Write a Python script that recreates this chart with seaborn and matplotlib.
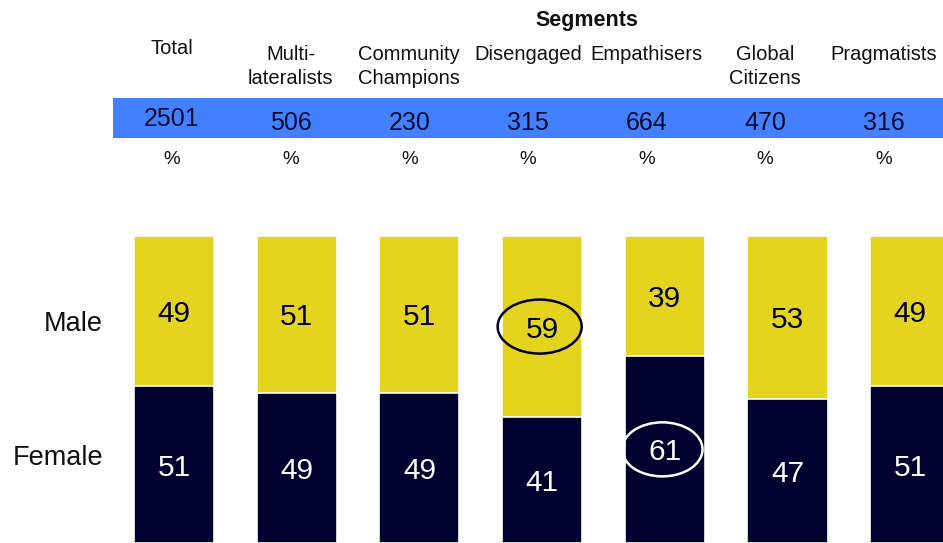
import matplotlib
matplotlib.use("Agg")
import matplotlib.pyplot as plt
from matplotlib.patches import Ellipse, Rectangle
import pandas as pd
import seaborn as sns

# Segment columns, base sizes and gender split (%)
segments = ["Total", "Multi-\nlateralists", "Community\nChampions", "Disengaged",
            "Empathisers", "Global\nCitizens", "Pragmatists"]
bases = [2501, 506, 230, 315, 664, 470, 316]
male = [49, 51, 51, 59, 39, 53, 49]
female = [51, 49, 49, 41, 61, 47, 51]
# Figures circled as notable differences: (segment index, group)
highlights = [(3, "Male"), (4, "Female")]

YELLOW = "#e4d41e"
NAVY = "#00002f"
BAND = "#4280ff"

sns.set_theme(style="white")
plt.rcParams["font.family"] = ["Liberation Sans", "DejaVu Sans"]

W, H = 943, 543
fig = plt.figure(figsize=(W / 100, H / 100), dpi=100)


def fx(px):
    return px / W


def fy(py):
    return 1 - py / H


df = pd.DataFrame({"segment": segments, "male": male, "female": female})
df["total"] = df["male"] + df["female"]

# Bar area spans the whole figure; limits place the columns under the header
ax = fig.add_axes([0, 0, 1, 1])
step = 122.7
ppu = 3.07
sns.barplot(data=df, x="segment", y="total", color=YELLOW, saturation=1,
            width=0.652, edgecolor="white", linewidth=1.2, ax=ax)
sns.barplot(data=df, x="segment", y="female", color=NAVY, saturation=1,
            width=0.652, edgecolor="white", linewidth=1.2, ax=ax)
ax.set_xlim(-174 / step, (W - 174) / step)
ax.set_ylim(0, H / ppu)
ax.axis("off")

for i, (m, f) in enumerate(zip(male, female)):
    ax.text(i, f + m / 2, f"{m}", ha="center", va="center_baseline", fontsize=21.5,
            color=NAVY)
    ax.text(i, f / 2, f"{f}", ha="center", va="center_baseline", fontsize=21.5,
            color="white")

for i, grp in highlights:
    if grp == "Male":
        cy, ec, w = female[i] + male[i] / 2, NAVY, 0.685
    else:
        cy, ec, w = female[i] / 2, "white", 0.655
    ax.add_patch(Ellipse((i - 0.02, cy), width=w, height=17.6, fill=False,
                         edgecolor=ec, linewidth=1.8, zorder=5))

# Row labels
fig.text(fx(103), fy(321), "Male", ha="right", va="center_baseline", fontsize=19.5,
         color="#111111")
fig.text(fx(103), fy(455), "Female", ha="right", va="center_baseline", fontsize=19.5,
         color="#111111")

# Header table
fig.text(fx(587), fy(18), "Segments", ha="center", va="center_baseline", fontsize=15.5,
         fontweight="bold", color="#111111")
fig.patches.append(Rectangle((fx(113), fy(138)), fx(W) - fx(113), fy(98) - fy(138),
                             transform=fig.transFigure, facecolor=BAND,
                             edgecolor="none", zorder=0))
col_step = 118.6
for i, (name, n) in enumerate(zip(segments, bases)):
    cx = fx(172 + col_step * i)
    if i == 0:
        fig.text(cx, fy(47), name, ha="center", va="center_baseline", fontsize=14.5,
                 color="#111111")
        fig.text(cx, fy(116), f"{n}", ha="center", va="center_baseline", fontsize=18,
                 color="#0b0b30")
    else:
        fig.text(cx, fy(45), name, ha="center", va="top", fontsize=14.5, color="#111111",
                 linespacing=1.3)
        fig.text(cx, fy(121), f"{n}", ha="center", va="center_baseline", fontsize=18,
                 color="#0b0b30")
    fig.text(cx, fy(158), "%", ha="center", va="center_baseline", fontsize=13.5,
             color="#111111")

fig.savefig("out.png", dpi=100)
